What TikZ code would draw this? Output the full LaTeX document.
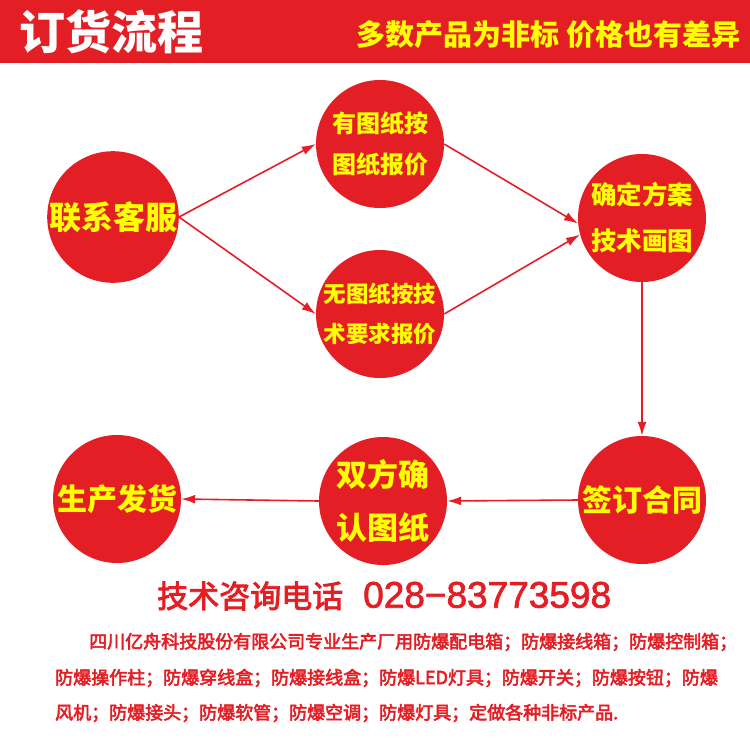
\documentclass[tikz,border=0pt]{standalone}
\usepackage{fontspec}
\usepackage{tikz}
\usetikzlibrary{arrows.meta}
\setmainfont{Noto Sans CJK SC}
\newfontfamily\numfont[FakeBold=2]{Liberation Sans}
\newfontfamily\notefont[FakeBold=3]{Noto Sans CJK SC}
\definecolor{hongse}{HTML}{E31E24}
\definecolor{huangse}{HTML}{FFFF00}

\begin{document}
\begin{tikzpicture}[x=1pt, y=-1pt,
    round/.style={circle, fill=hongse, minimum size=128pt, inner sep=0pt, text=huangse, align=center},
    flow/.style={draw=hongse, line width=1.6pt, -{Latex[length=14pt, width=9pt]}},
    note/.style={anchor=west, text=hongse, inner sep=0pt, font=\notefont\fontsize{18}{18}\selectfont}]
    \useasboundingbox (0,0) rectangle (750,750);
    % header band
    \fill[hongse] (0,0) rectangle (750,63);
    \node [anchor=west, text=white, font=\fontsize{46}{46}\selectfont\bfseries](title) at (16,32) {订货流程};
    \node [anchor=east, text=huangse, font=\fontsize{29}{29}\selectfont\bfseries](slogan) at (744,35) {多数产品为非标 价格也有差异};

    % steps
    \node [round, font=\fontsize{32}{32}\selectfont\bfseries](kefu) at (113,217) {联系客服};
    \node [round, font=\fontsize{24}{41}\selectfont\bfseries](youtu) at (380,144) {有图纸按\\图纸报价};
    \node [round, font=\fontsize{22.5}{40}\selectfont\bfseries](wutu) at (380,314) {无图纸按技\\术要求报价};
    \node [round, font=\fontsize{25.5}{46}\selectfont\bfseries](fangan) at (642,218) {确定方案\\技术画图};
    \node [round, font=\fontsize{30}{30}\selectfont\bfseries](hetong) at (642,500) {签订合同};
    \node [round, font=\fontsize{31}{53}\selectfont\bfseries](queren) at (383,501) {双方确\\认图纸};
    \node [round, font=\fontsize{30}{30}\selectfont\bfseries](fahuo) at (117,499) {生产发货};

    \draw [flow] (kefu.east) -- (youtu.west);
    \draw [flow] (kefu.east) -- (wutu.west);
    \draw [flow] (youtu.east) -- (fangan.185);
    \draw [flow] (wutu.east) -- (fangan.195);
    \draw [flow] (fangan.south) -- (hetong.north);
    \draw [flow] (hetong.west) -- (queren.east);
    \draw [flow] (queren.west) -- (fahuo.east);

    % contact and notes
    \node [anchor=west, inner sep=0pt, text=hongse, font=\notefont\fontsize{31}{31}\selectfont](dianhua) at (157,596) {技术咨询电话\hspace{20pt}{\numfont\fontsize{37}{37}\selectfont 028−83773598}};
    \node [note](hang1) at (89,642) {四川亿舟科技股份有限公司专业生产厂用防爆配电箱；防爆接线箱；防爆控制箱；};
    \node [note](hang2) at (55,678) {防爆操作柱；防爆穿线盒；防爆接线盒；防爆LED灯具；防爆开关；防爆按钮；防爆};
    \node [note](hang3) at (55,713) {风机；防爆接头；防爆软管；防爆空调；防爆灯具；定做各种非标产品.};
\end{tikzpicture}
\end{document}
